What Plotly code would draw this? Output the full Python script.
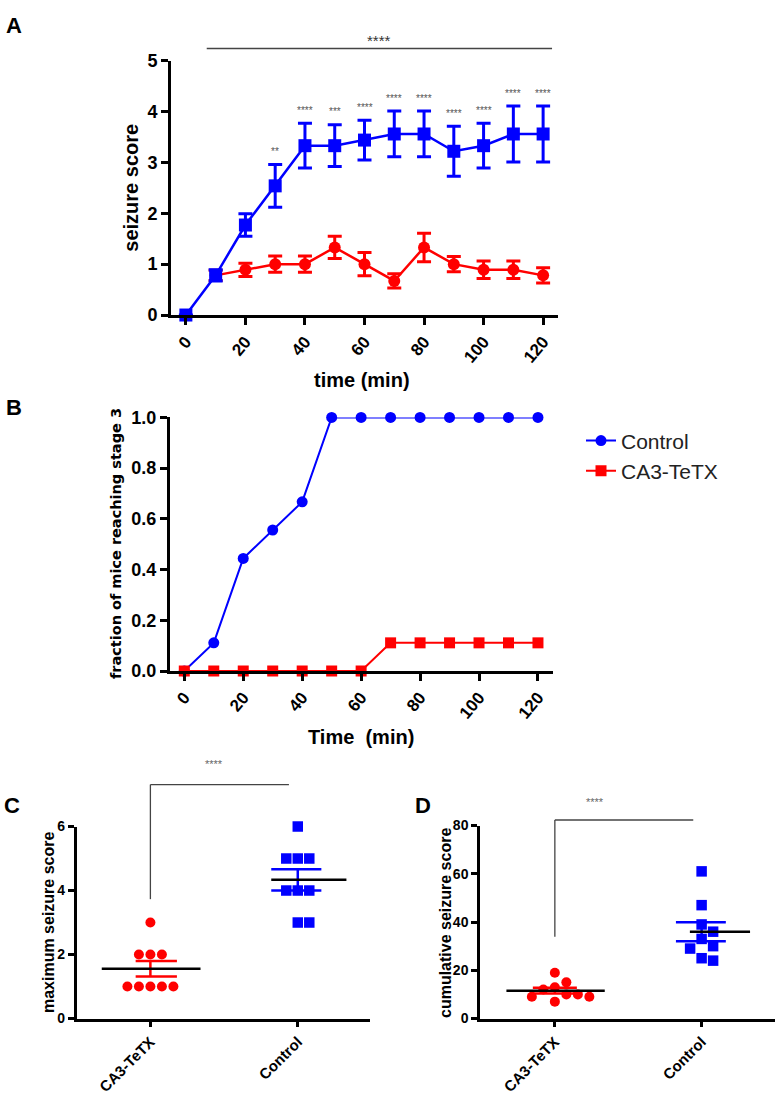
import numpy as np
import plotly.graph_objects as go

# ---------------- DATA ----------------
time_min = [0, 10, 20, 30, 40, 50, 60, 70, 80, 90, 100, 110, 120]

# Panel A: seizure score, mean and SEM
a_control_mean = [0.0, 0.78, 1.77, 2.54, 3.33, 3.33, 3.44, 3.56, 3.56, 3.22, 3.33, 3.56, 3.56]
a_control_sem = [0.0, 0.11, 0.22, 0.42, 0.44, 0.41, 0.39, 0.45, 0.45, 0.49, 0.44, 0.55, 0.55]
a_tetx_time = [10, 20, 30, 40, 50, 60, 70, 80, 90, 100, 110, 120]
a_tetx_mean = [0.78, 0.89, 1.0, 1.0, 1.33, 1.0, 0.67, 1.33, 1.0, 0.89, 0.89, 0.78]
a_tetx_sem = [0.10, 0.13, 0.16, 0.16, 0.22, 0.23, 0.14, 0.28, 0.15, 0.17, 0.17, 0.15]
a_point_stars = ["", "", "", "**", "****", "***", "****", "****", "****", "****", "****", "****", "****"]
a_overall_star = "****"

# Panel B: fraction of mice reaching stage 3
b_control = [0.0, 0.111, 0.444, 0.556, 0.667, 1.0, 1.0, 1.0, 1.0, 1.0, 1.0, 1.0, 1.0]
b_tetx = [0.0, 0.0, 0.0, 0.0, 0.0, 0.0, 0.0, 0.111, 0.111, 0.111, 0.111, 0.111, 0.111]

# Panels C and D: individual mice
groups = ["CA3-TeTX", "Control"]
c_tetx = [3, 2, 2, 2, 1, 1, 1, 1, 1]
c_control = [6, 5, 5, 5, 4, 4, 4, 3, 3]
d_tetx = [19, 15, 13, 12, 10, 10, 9, 9, 7]
d_control = [61, 47, 39, 36, 33, 30, 29, 25, 24]
cd_star = "****"

# ---------------- LAYOUT HELPERS ----------------
W, H = 775, 1095
BLUE = "#0000FF"
RED = "#FF0000"
FONT = "Liberation Sans"


def xdom(p0, p1):
    return [p0 / W, p1 / W]


def ydom(top, bottom):
    return [1 - bottom / H, 1 - top / H]


AX = {
    "A": dict(xd=xdom(171, 558), xr=[-5.0, 125.0], yd=ydom(51.7, 310.7), yr=[0, 5]),
    "B": dict(xd=xdom(170, 553), xr=[-4.85, 125.1], yd=ydom(415, 673.3), yr=[0, 1]),
    "C": dict(xd=xdom(76.7, 370), xr=[-0.5, 1.49], yd=ydom(831.7, 1027.3), yr=[0, 6]),
    "D": dict(xd=xdom(480, 775), xr=[-0.51, 1.5], yd=ydom(830.7, 1027.3), yr=[0, 80]),
}


def to_paper(panel, x=None, y=None):
    a = AX[panel]
    out = []
    if x is not None:
        f = (x - a["xr"][0]) / (a["xr"][1] - a["xr"][0])
        out.append(a["xd"][0] + f * (a["xd"][1] - a["xd"][0]))
    if y is not None:
        f = (y - a["yr"][0]) / (a["yr"][1] - a["yr"][0])
        out.append(a["yd"][0] + f * (a["yd"][1] - a["yd"][0]))
    return out if len(out) > 1 else out[0]


def px_per_unit(panel):
    a = AX[panel]
    ppx = (a["xd"][1] - a["xd"][0]) * W / (a["xr"][1] - a["xr"][0])
    ppy = (a["yd"][1] - a["yd"][0]) * H / (a["yr"][1] - a["yr"][0])
    return ppx, ppy


def swarm(values, panel, diameter=11.5):
    """Simple beeswarm offsets (in x data units) so markers do not overlap."""
    ppx, ppy = px_per_unit(panel)
    step = diameter / ppx
    order = sorted(range(len(values)), key=lambda i: -values[i])
    placed, offs = [], [0.0] * len(values)
    cands = [0.0]
    for k in range(1, 8):
        cands += [k * step, -k * step]
    for i in order:
        y = values[i]
        for c in cands:
            ok = all(((c - px) * ppx) ** 2 + ((y - py) * ppy) ** 2 >= (diameter * 0.97) ** 2
                     for px, py in placed)
            if ok:
                break
        placed.append((c, y))
        offs[i] = c
    return offs


fig = go.Figure()

# ---------------- PANEL A ----------------
fig.add_trace(go.Scatter(
    x=a_tetx_time, y=a_tetx_mean, mode="lines+markers", xaxis="x", yaxis="y",
    line=dict(color=RED, width=2.5), marker=dict(symbol="circle", size=12, color=RED),
    error_y=dict(type="data", array=a_tetx_sem, color=RED, thickness=3, width=7),
    cliponaxis=False, showlegend=False))
fig.add_trace(go.Scatter(
    x=time_min, y=a_control_mean, mode="lines+markers", xaxis="x", yaxis="y",
    line=dict(color=BLUE, width=2.5), marker=dict(symbol="square", size=13, color=BLUE),
    error_y=dict(type="data", array=a_control_sem, color=BLUE, thickness=3, width=7),
    cliponaxis=False, showlegend=False))

annotations = []
for t, m, s, st in zip(time_min, a_control_mean, a_control_sem, a_point_stars):
    if st:
        annotations.append(dict(x=t, y=m + s, xref="x", yref="y", text=st, showarrow=False,
                                yshift=13, font=dict(family=FONT, size=10, color="#555555")))

# ---------------- PANEL B ----------------
fig.add_trace(go.Scatter(
    x=time_min, y=b_control, mode="lines+markers", xaxis="x2", yaxis="y2", name="Control",
    line=dict(color=BLUE, width=2), marker=dict(symbol="circle", size=11, color=BLUE),
    cliponaxis=False))
fig.add_trace(go.Scatter(
    x=time_min, y=b_tetx, mode="lines+markers", xaxis="x2", yaxis="y2", name="CA3-TeTX",
    line=dict(color=RED, width=2), marker=dict(symbol="square", size=11, color=RED),
    cliponaxis=False))


# ---------------- PANELS C, D ----------------
def scatter_panel(panel, xa, ya, tetx, control, mean_spans, sem_spans):
    for gi, (vals, color, sym) in enumerate([(tetx, RED, "circle"), (control, BLUE, "square")]):
        offs = swarm(vals, panel)
        fig.add_trace(go.Scatter(
            x=[gi + o for o in offs], y=vals, mode="markers", xaxis=xa, yaxis=ya,
            marker=dict(symbol=sym, size=10 if sym == "circle" else 10.5, color=color),
            cliponaxis=False, showlegend=False))
        v = np.array(vals, dtype=float)
        mean = v.mean()
        sem = v.std(ddof=1) / np.sqrt(len(v))
        s0, s1 = sem_spans[gi]
        for yv in (mean - sem, mean + sem):
            fig.add_trace(go.Scatter(x=[gi + s0, gi + s1], y=[yv, yv], mode="lines",
                                     xaxis=xa, yaxis=ya, line=dict(color=color, width=2.5),
                                     showlegend=False, hoverinfo="skip"))
        fig.add_trace(go.Scatter(x=[gi, gi], y=[mean - sem, mean + sem], mode="lines",
                                 xaxis=xa, yaxis=ya, line=dict(color=color, width=2.5),
                                 showlegend=False, hoverinfo="skip"))
        m0, m1 = mean_spans[gi]
        fig.add_trace(go.Scatter(x=[gi + m0, gi + m1], y=[mean, mean], mode="lines",
                                 xaxis=xa, yaxis=ya, line=dict(color="black", width=2.5),
                                 showlegend=False, hoverinfo="skip"))


scatter_panel("C", "x3", "y3", c_tetx, c_control,
              mean_spans=[(-0.33, 0.34), (-0.18, 0.33)], sem_spans=[(-0.10, 0.18), (-0.18, 0.16)])
scatter_panel("D", "x4", "y4", d_tetx, d_control,
              mean_spans=[(-0.33, 0.34), (-0.08, 0.33)], sem_spans=[(-0.15, 0.15), (-0.175, 0.165)])

# ---------------- SHAPES (brackets, bars) ----------------
shapes = []
GRAY = "#444444"
# Panel A overall bar
ax0, ay = to_paper("A", 7, 5.24)
ax1, _ = to_paper("A", 123, 5.24)
shapes.append(dict(type="line", xref="paper", yref="paper", x0=ax0, x1=ax1, y0=ay, y1=ay,
                   line=dict(color=GRAY, width=1.5)))
sx, sy = to_paper("A", 65, 5.6)
annotations.append(dict(x=sx, y=sy, xref="paper", yref="paper", text=a_overall_star,
                        showarrow=False, font=dict(family=FONT, size=15, color="#333333")))


def bracket(panel, y_low, y_top, x_right, star_x, star_y):
    xl, yl = to_paper(panel, 0, y_low)
    _, yt = to_paper(panel, 0, y_top)
    xr = to_paper(panel, x_right, 0)[0]
    shapes.append(dict(type="line", xref="paper", yref="paper", x0=xl, x1=xl, y0=yl, y1=yt,
                       line=dict(color=GRAY, width=1.3)))
    shapes.append(dict(type="line", xref="paper", yref="paper", x0=xl, x1=xr, y0=yt, y1=yt,
                       line=dict(color=GRAY, width=1.3)))
    px_, py_ = to_paper(panel, star_x, star_y)
    annotations.append(dict(x=px_, y=py_, xref="paper", yref="paper", text=cd_star,
                            showarrow=False, font=dict(family=FONT, size=11, color="#666666")))


bracket("C", 3.73, 7.31, 0.94, 0.36, 7.7)
bracket("D", 33.9, 82.3, 0.943, 0.35, 86.4)


# ---------------- TEXT (titles, panel letters) ----------------
def ptext(txt, x, y, size, angle=0, family=FONT, bold=True, color="black"):
    annotations.append(dict(x=x / W, y=1 - y / H, xref="paper", yref="paper", text=txt,
                            showarrow=False, textangle=angle, xanchor="center", yanchor="middle",
                            font=dict(family=family, size=size, color=color,
                                      weight="bold" if bold else "normal")))


ptext("A", 14, 16, 22)
ptext("B", 14, 405, 22)
ptext("C", 12, 810, 22)
ptext("D", 423, 810, 22)
ptext("seizure score", 131, 181, 20, angle=-90)
ptext("time (min)", 362, 377, 20)
ptext("fraction of mice reaching stage 3", 116, 544, 14.5, angle=-90, family="DejaVu Sans")
ptext("Time  (min)", 361, 741, 20)
ptext("maximum seizure score", 48, 929, 16, angle=-90)
ptext("cumulative seizure score", 445, 930, 16, angle=-90)

# ---------------- AXES ----------------
def axis_common(dom, rng, anchor, lw=3, tl=7, tw=3, size=18, angle=None, **kw):
    d = dict(domain=dom, range=rng, anchor=anchor, showline=True, linecolor="black",
             linewidth=lw, ticks="outside", ticklen=tl, tickwidth=tw, tickcolor="black",
             showgrid=False, zeroline=False, fixedrange=True,
             tickfont=dict(family=FONT, size=size, color="black", weight="bold"))
    if angle is not None:
        d["tickangle"] = angle
    d.update(kw)
    return d


fig.update_layout(
    width=W, height=H, margin=dict(l=0, r=0, t=0, b=0),
    paper_bgcolor="white", plot_bgcolor="white",
    xaxis=axis_common(AX["A"]["xd"], AX["A"]["xr"], "y", size=17, angle=-50,
                      tickmode="array", tickvals=time_min[::2]),
    yaxis=axis_common(AX["A"]["yd"], AX["A"]["yr"], "x", size=18, tickvals=[0, 1, 2, 3, 4, 5]),
    xaxis2=axis_common(AX["B"]["xd"], AX["B"]["xr"], "y2", size=17, angle=-50,
                       tickmode="array", tickvals=time_min[::2]),
    yaxis2=axis_common(AX["B"]["yd"], AX["B"]["yr"], "x2", size=18,
                       tickvals=[0, 0.2, 0.4, 0.6, 0.8, 1.0], tickformat=".1f"),
    xaxis3=axis_common(AX["C"]["xd"], AX["C"]["xr"], "y3", lw=2.5, tl=6, tw=2.5, size=15, angle=-45,
                       tickmode="array", tickvals=[0, 1], ticktext=groups),
    yaxis3=axis_common(AX["C"]["yd"], AX["C"]["yr"], "x3", lw=2.5, tl=6, tw=2.5, size=14,
                       tickvals=[0, 2, 4, 6]),
    xaxis4=axis_common(AX["D"]["xd"], AX["D"]["xr"], "y4", lw=2.5, tl=6, tw=2.5, size=15, angle=-45,
                       tickmode="array", tickvals=[0, 1], ticktext=groups),
    yaxis4=axis_common(AX["D"]["yd"], AX["D"]["yr"], "x4", lw=2.5, tl=6, tw=2.5, size=14,
                       tickvals=[0, 20, 40, 60, 80]),
    showlegend=True,
    legend=dict(x=581 / W, y=1 - 418 / H, xanchor="left", yanchor="top",
                font=dict(family=FONT, size=21, color="#222222"), bgcolor="rgba(0,0,0,0)",
                borderwidth=0, tracegroupgap=0),
    shapes=shapes, annotations=annotations,
)

fig.write_html("out.html", config={"displayModeBar": False},
               post_script="document.body.style.margin='0px';document.body.style.overflow='hidden';")
